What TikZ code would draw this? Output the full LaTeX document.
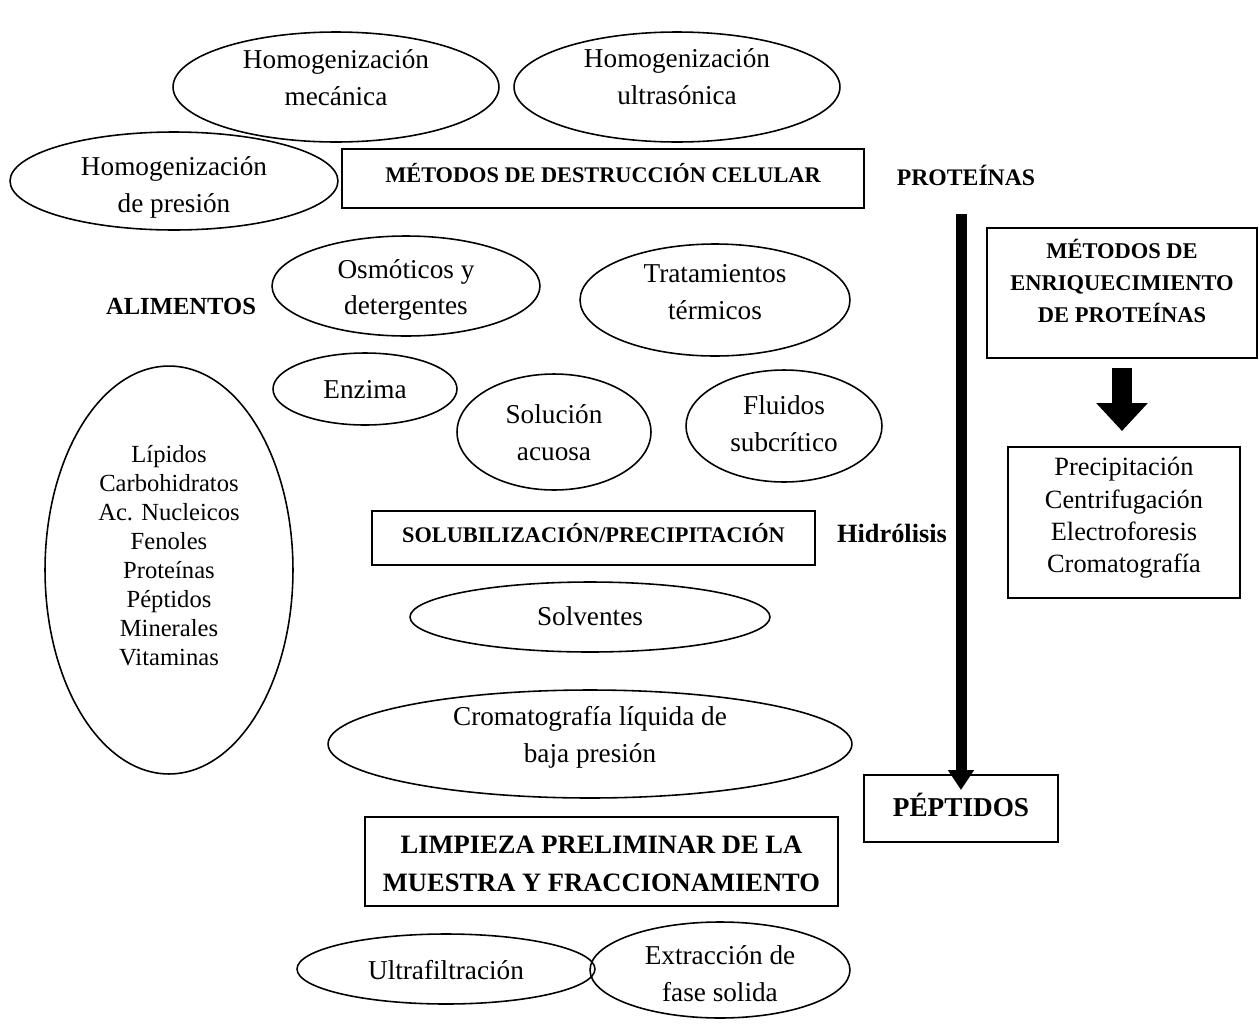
\documentclass[tikz,border=0pt]{standalone}
\usepackage{fontspec}
\setmainfont{Liberation Serif}
\usetikzlibrary{shapes.geometric,arrows.meta}
\begin{document}
\begin{tikzpicture}[x=0.02cm,y=-0.02cm,
  ell/.style={draw,ellipse,line width=0.9pt,inner sep=0pt},
  box/.style={draw,rectangle,line width=1.1pt,inner sep=0pt},
  txt/.style={align=center,inner sep=0pt,font=\fontsize{15.5}{21}\selectfont},
  btxt/.style={align=center,inner sep=0pt,font=\fontsize{12.7}{17}\selectfont\bfseries},
  lbl/.style={inner sep=0pt,font=\fontsize{14}{17}\selectfont\bfseries}]
\useasboundingbox (0,0) rectangle (1259,1032);

% cell disruption methods
\node[ell,minimum width=6.52cm,minimum height=2.2cm] (e1) at (336,87) {};
\node[txt] (t1) at (336,78) {Homogenización\\mecánica};
\node[ell,minimum width=6.52cm,minimum height=2.2cm] (e2) at (677,87) {};
\node[txt] (t2) at (677,77) {Homogenización\\ultrasónica};
\node[ell,minimum width=6.56cm,minimum height=1.96cm] (e3) at (174,181) {};
\node[txt] (t3) at (174,187) {Homogenización\\de presión};
\node[box,minimum width=10.44cm,minimum height=1.18cm] (bd) at (603,178.5) {};
\node[btxt] (tbd) at (603,173) {MÉTODOS DE DESTRUCCIÓN CELULAR};
\node[lbl,font=\fontsize{13.5}{16}\selectfont\bfseries] (prot) at (966,175) {PROTEÍNAS};

\node[ell,minimum width=5.36cm,minimum height=2.0cm] (e4) at (406,286) {};
\node[txt] (t4) at (406,290) {Osmóticos y\\detergentes};
\node[ell,minimum width=5.4cm,minimum height=2.24cm] (e5) at (715,300) {};
\node[txt] (t5) at (715,292) {Tratamientos\\térmicos};
\node[lbl] (alim) at (181,306) {ALIMENTOS};

\node[ell,minimum width=3.68cm,minimum height=1.44cm] (e6) at (365,389) {};
\node[txt] (t6) at (365,390) {Enzima};
\node[ell,minimum width=3.88cm,minimum height=2.32cm] (e7) at (554,432) {};
\node[txt] (t7) at (554,433) {Solución\\acuosa};
\node[ell,minimum width=3.92cm,minimum height=2.24cm] (e8) at (784,426) {};
\node[txt] (t8) at (784,424) {Fluidos\\subcrítico};

% food components
\node[ell,minimum width=4.96cm,minimum height=8.16cm] (e9) at (169,570) {};
\node[txt,font=\fontsize{14}{16.5}\selectfont] (t9) at (169,556)
  {Lípidos\\Carbohidratos\\Ac. Nucleicos\\Fenoles\\Proteínas\\Péptidos\\Minerales\\Vitaminas};

% solubilisation
\node[box,minimum width=8.86cm,minimum height=1.08cm] (bs) at (593.5,538) {};
\node[btxt] (tbs) at (593.5,533) {SOLUBILIZACIÓN/PRECIPITACIÓN};
\node[lbl,font=\fontsize{15}{18}\selectfont\bfseries] (hidr) at (892,533) {Hidrólisis};
\node[ell,minimum width=7.2cm,minimum height=1.4cm] (e10) at (590,617) {};
\node[txt] (t10) at (590,616) {Solventes};
\node[ell,minimum width=10.48cm,minimum height=2.16cm] (e11) at (590,744) {};
\node[txt] (t11) at (590,737) {Cromatografía líquida de\\baja presión};

% clean-up and fractionation
\node[box,minimum width=9.46cm,minimum height=1.78cm] (bl) at (601.5,861.5) {};
\node[btxt,font=\fontsize{15.1}{21.6}\selectfont\bfseries] (tbl) at (601.5,864)
  {LIMPIEZA PRELIMINAR DE LA\\MUESTRA Y FRACCIONAMIENTO};
\node[ell,minimum width=5.96cm,minimum height=1.4cm] (e12) at (446,969) {};
\node[txt] (t12) at (446,970) {Ultrafiltración};
\node[ell,minimum width=5.2cm,minimum height=1.92cm] (e13) at (720,970) {};
\node[txt] (t13) at (720,974) {Extracción de\\fase solida};

% protein enrichment
\node[box,minimum width=5.4cm,minimum height=2.6cm] (be) at (1122,293) {};
\node[btxt,font=\fontsize{12.8}{18}\selectfont\bfseries] (tbe) at (1122,281)
  {MÉTODOS DE\\ENRIQUECIMIENTO\\DE PROTEÍNAS};
\node[box,minimum width=4.64cm,minimum height=3.02cm] (bp) at (1124,522.5) {};
\node[txt,font=\fontsize{15}{18.4}\selectfont] (tbp) at (1124,518)
  {Precipitación\\Centrifugación\\Electroforesis\\Cromatografía};

\node[box,minimum width=3.88cm,minimum height=1.34cm] (bpe) at (961,808.5) {};
\node[btxt,font=\fontsize{15.5}{18}\selectfont\bfseries] (tpe) at (961,805) {PÉPTIDOS};

% arrows
\coordinate (h1) at (961,214);
\coordinate (h2) at (961,790);
\draw[line width=0.22cm,-{Triangle[width=0.5cm,length=0.4cm]}] (h1) -- (h2);
\coordinate (f1) at (1122,368);
\coordinate (f2) at (1122,431);
\draw[line width=0.4cm,-{Triangle[width=1.0cm,length=0.56cm]}] (f1) -- (f2);
\end{tikzpicture}
\end{document}
